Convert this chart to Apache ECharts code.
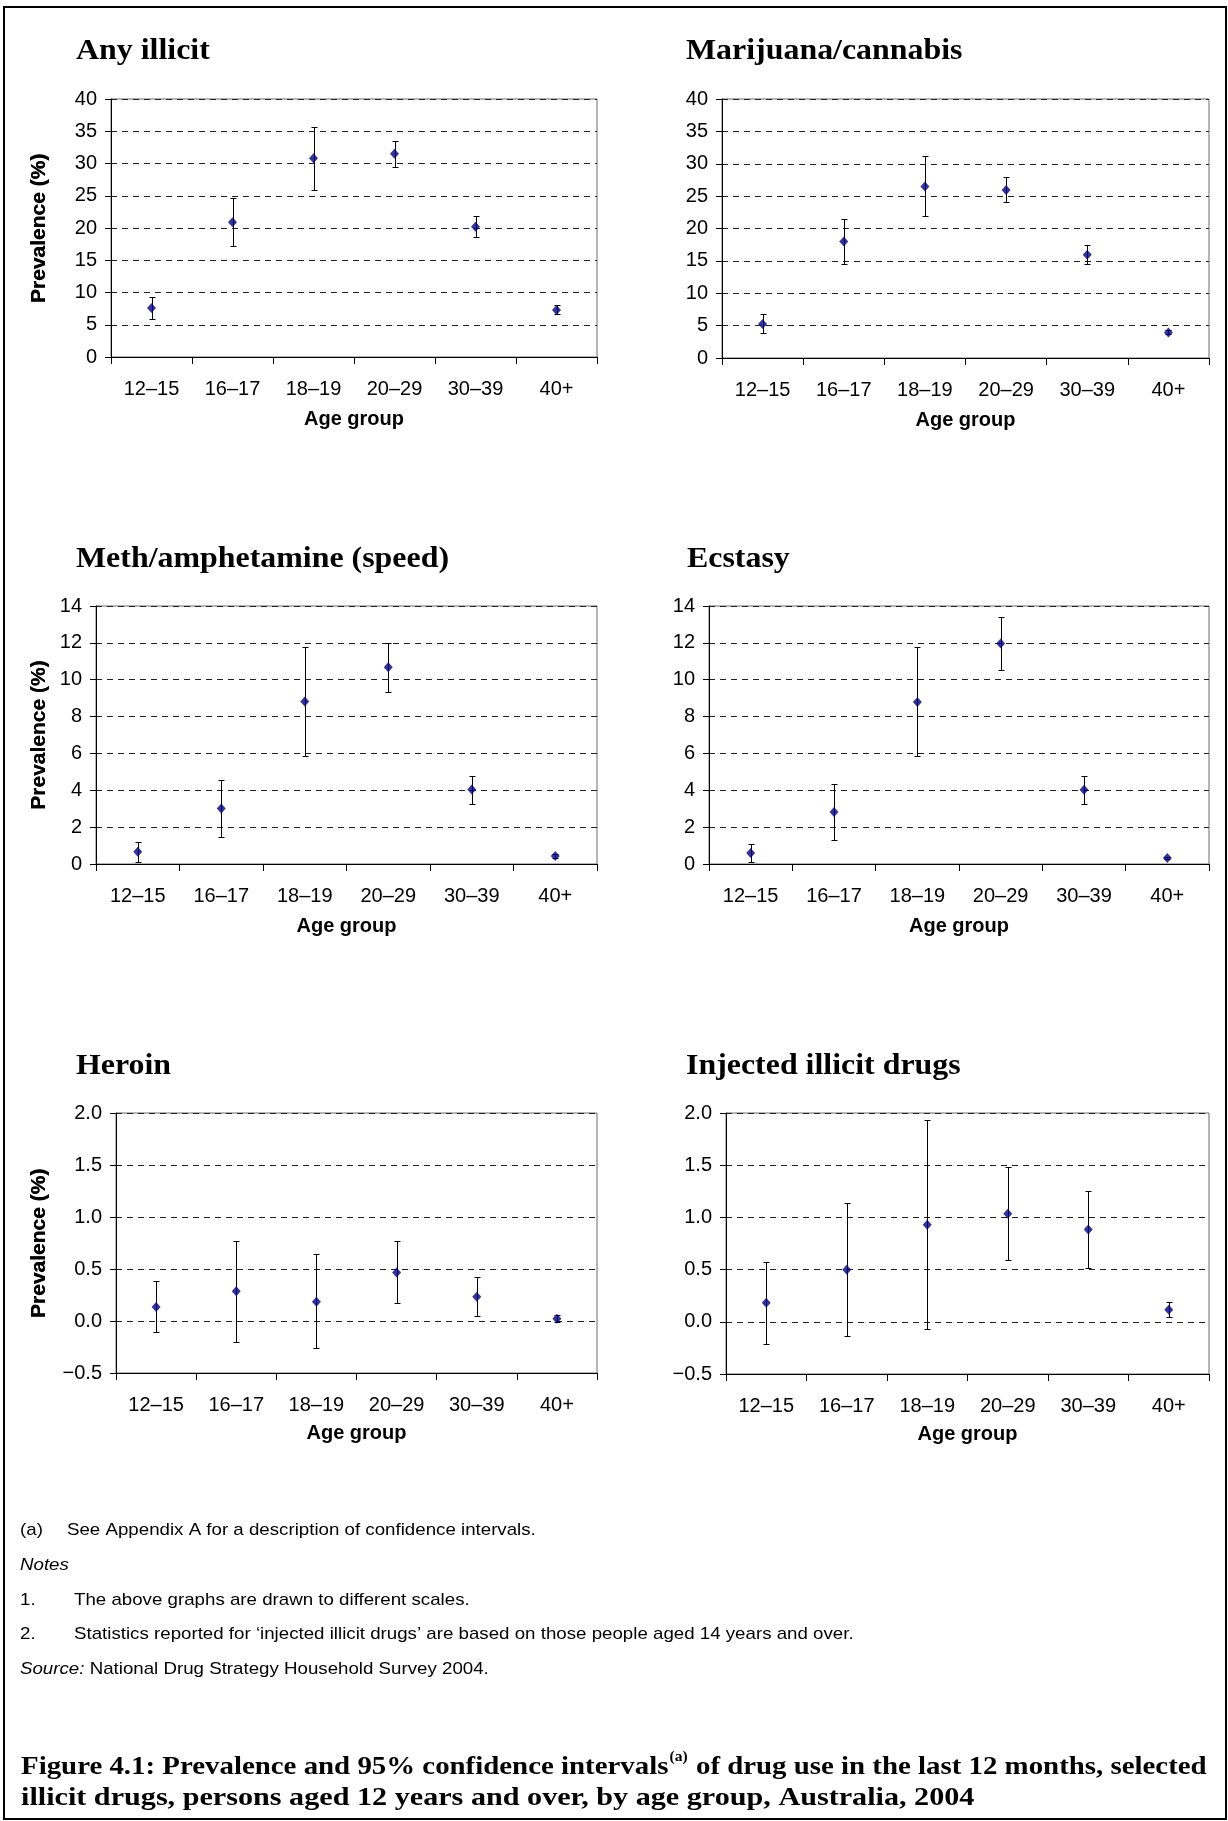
<!DOCTYPE html>
<html><head><meta charset="utf-8">
<script src="https://cdn.jsdelivr.net/npm/echarts@6/dist/echarts.min.js"></script>
<style>html,body{margin:0;padding:0;background:#fff}#c{width:1228px;height:1821px}</style>
</head><body><div id="c"></div><script>
// ---------- data ----------
var ageGroups = ['12–15', '16–17', '18–19', '20–29', '30–39', '40+'];

var anyIllicitValue = [7.6, 20.9, 30.8, 31.5, 20.2, 7.3];
var anyIllicitLow   = [5.9, 17.2, 25.9, 29.5, 18.6, 6.7];
var anyIllicitHigh  = [9.35, 24.65, 35.6, 33.5, 21.8, 8.0];

var cannabisValue = [5.25, 18.0, 26.5, 25.95, 15.95, 3.95];
var cannabisLow   = [3.8, 14.5, 21.9, 24.1, 14.55, 3.65];
var cannabisHigh  = [6.75, 21.5, 31.2, 27.9, 17.45, 4.3];

var methValue = [0.67, 3.01, 8.82, 10.68, 4.04, 0.43];
var methLow   = [0.13, 1.48, 5.88, 9.33, 3.28, 0.32];
var methHigh  = [1.21, 4.58, 11.78, 12.0, 4.8, 0.54];

var ecstasyValue = [0.6, 2.82, 8.79, 11.96, 4.03, 0.33];
var ecstasyLow   = [0.09, 1.32, 5.86, 10.54, 3.26, 0.27];
var ecstasyHigh  = [1.08, 4.34, 11.76, 13.38, 4.77, 0.39];

var heroinValue = [0.134, 0.285, 0.186, 0.467, 0.234, 0.022];
var heroinLow   = [-0.109, -0.2, -0.26, 0.17, 0.048, -0.01];
var heroinHigh  = [0.38, 0.77, 0.64, 0.765, 0.42, 0.054];

var injectedValue = [0.182, 0.498, 0.929, 1.035, 0.885, 0.115];
var injectedLow   = [-0.208, -0.134, -0.067, 0.594, 0.52, 0.048];
var injectedHigh  = [0.572, 1.137, 1.929, 1.482, 1.252, 0.185];

// y-axis scales: [min, max, interval, decimals]
var scalePct40 = [0, 40, 5, 0];
var scalePct14 = [0, 14, 2, 0];
var scalePct2  = [-0.5, 2.0, 0.5, 1];

var panelTitles = ['Any illicit', 'Marijuana/cannabis', 'Meth/amphetamine (speed)', 'Ecstasy', 'Heroin', 'Injected illicit drugs'];
var yAxisTitle = 'Prevalence (%)';
var xAxisTitle = 'Age group';

var footnoteA = 'See Appendix A for a description of confidence intervals.';
var note1 = 'The above graphs are drawn to different scales.';
var note2 = 'Statistics reported for \u2018injected illicit drugs\u2019 are based on those people aged 14 years and over.';
var sourceText = 'National Drug Strategy Household Survey 2004.';
var captionLine1a = 'Figure 4.1: Prevalence and 95% confidence intervals';
var captionLine1b = ' of drug use in the last 12 months, selected';
var captionLine2 = 'illicit drugs, persons aged 12 years and over, by age group, Australia, 2004';

// ---------- layout ----------
var SANS = '"Liberation Sans", Arial, Helvetica, sans-serif';
var SERIF = '"Palatino Linotype", "Book Antiqua", Palatino, "Liberation Serif", serif';

var panels = [
  {v: anyIllicitValue, lo: anyIllicitLow, hi: anyIllicitHigh, s: scalePct40, L: 111, R: 597, T: 99, B: 357, tx: 76, ty: 52, ng: 52},
  {v: cannabisValue, lo: cannabisLow, hi: cannabisHigh, s: scalePct40, L: 722, R: 1209, T: 99, B: 358, tx: 686, ty: 52, ng: 52},
  {v: methValue, lo: methLow, hi: methHigh, s: scalePct14, L: 96, R: 597, T: 606, B: 864, tx: 76, ty: 560, ng: 52},
  {v: ecstasyValue, lo: ecstasyLow, hi: ecstasyHigh, s: scalePct14, L: 709, R: 1209, T: 606, B: 864, tx: 687, ty: 560, ng: 52},
  {v: heroinValue, lo: heroinLow, hi: heroinHigh, s: scalePct2, L: 116, R: 597, T: 1113, B: 1373, tx: 76, ty: 1067, ng: 50},
  {v: injectedValue, lo: injectedLow, hi: injectedHigh, s: scalePct2, L: 726, R: 1209, T: 1113, B: 1374, tx: 686, ty: 1067, ng: 50}
];

function errorBar(params, api) {
  var x = api.value(0);
  var lo = api.coord([x, api.value(1)]);
  var hi = api.coord([x, api.value(2)]);
  var px = Math.round(lo[0]) + 0.5;
  var yl = Math.round(lo[1]) + 0.5, yh = Math.round(hi[1]) + 0.5;
  var cap = 3;
  var st = {stroke: '#000', lineWidth: 1};
  return {type: 'group', children: [
    {type: 'line', shape: {x1: px, y1: yh, x2: px, y2: yl}, style: st},
    {type: 'line', shape: {x1: px - cap, y1: yh, x2: px + cap, y2: yh}, style: st},
    {type: 'line', shape: {x1: px - cap, y1: yl, x2: px + cap, y2: yl}, style: st}
  ]};
}

var grids = [], xAxes = [], yAxes = [], series = [], graphics = [];
panels.forEach(function (p, i) {
  grids.push({left: p.L, top: p.T, width: p.R - p.L, height: p.B - p.T, show: true,
    borderColor: '#6a6a6a', borderWidth: 1, backgroundColor: 'transparent', containLabel: false});
  xAxes.push({type: 'category', gridIndex: i, data: ageGroups, boundaryGap: true,
    axisLine: {onZero: false, lineStyle: {color: '#000', width: 1}},
    axisTick: {show: true, length: 7, lineStyle: {color: '#000'}},
    axisLabel: {color: '#000', fontSize: 20, fontFamily: SANS, margin: 22, interval: 0},
    splitLine: {show: false},
    name: xAxisTitle, nameLocation: 'middle', nameGap: p.ng,
    nameTextStyle: {color: '#000', fontSize: 20, fontWeight: 'bold', fontFamily: SANS}});
  var dec = p.s[3];
  yAxes.push({type: 'value', gridIndex: i, min: p.s[0], max: p.s[1], interval: p.s[2],
    axisLine: {show: true, onZero: false, lineStyle: {color: '#000', width: 1}},
    axisTick: {show: true, length: 6, lineStyle: {color: '#000'}},
    axisLabel: {color: '#000', fontSize: 20, fontFamily: SANS, margin: 14,
      formatter: function (val) { var t = Math.abs(val).toFixed(dec); return val < 0 ? '\u2212' + t : t; }},
    splitLine: {show: true, lineStyle: {color: '#222', type: [6, 5], width: 1}},
    name: yAxisTitle, nameLocation: 'middle', nameGap: p.L - 50, nameRotate: 90,
    nameTextStyle: {color: '#000', fontSize: 21, fontWeight: 'bold', fontFamily: SANS}});
  series.push({type: 'custom', xAxisIndex: i, yAxisIndex: i, renderItem: errorBar, z: 3,
    encode: {x: 0, y: [1, 2]},
    data: ageGroups.map(function (c, j) { return [j, p.lo[j], p.hi[j]]; })});
  series.push({type: 'scatter', xAxisIndex: i, yAxisIndex: i, z: 4, symbol: 'diamond', symbolSize: [9, 10],
    itemStyle: {color: '#000080'}, data: p.v});
  graphics.push({type: 'text', x: p.tx, y: p.ty, scaleX: 1.1, style: {text: panelTitles[i], font: 'bold 29px ' + SERIF,
    fill: '#000', textAlign: 'left', textVerticalAlign: 'middle'}});
});

function note(x, y, txt, italic) {
  return {type: 'text', x: x, y: y, scaleX: 1.1, style: {text: txt, font: (italic ? 'italic ' : '') + '17px ' + SANS,
    fill: '#000', textAlign: 'left', textVerticalAlign: 'middle'}};
}
graphics.push(note(20, 1530, '(a)'));
graphics.push(note(67, 1530, footnoteA));
graphics.push(note(20, 1565, 'Notes', true));
graphics.push(note(20, 1600, '1.'));
graphics.push(note(74, 1600, note1));
graphics.push(note(20, 1634, '2.'));
graphics.push(note(74, 1634, note2));
graphics.push({type: 'text', x: 20, y: 1669, scaleX: 1.1, style: {text: '{i|Source:} ' + sourceText,
  font: '17px ' + SANS, fill: '#000', textAlign: 'left', textVerticalAlign: 'middle',
  rich: {i: {fontStyle: 'italic', fontSize: 17, fontFamily: SANS}}}});
graphics.push({type: 'text', x: 21, y: 1765, scaleX: 1.11, style: {
  text: '{m|' + captionLine1a + '}{s|(a)}{m|' + captionLine1b + '}',
  fill: '#000', textAlign: 'left', textVerticalAlign: 'middle',
  rich: {m: {fontSize: 26, fontWeight: 'bold', fontFamily: SERIF, lineHeight: 30, verticalAlign: 'bottom'},
         s: {fontSize: 14, fontWeight: 'bold', fontFamily: SERIF, lineHeight: 30, verticalAlign: 'top', padding: [0, 1, 0, 1]}}}});
graphics.push({type: 'text', x: 21, y: 1798, scaleX: 1.16, style: {text: captionLine2, font: 'bold 26px ' + SERIF,
  fill: '#000', textAlign: 'left', textVerticalAlign: 'middle'}});
graphics.push({type: 'rect', shape: {x: 4, y: 7, width: 1222, height: 1812},
  style: {fill: null, stroke: '#000', lineWidth: 2}, silent: true});

var chart = echarts.init(document.getElementById('c'), null, {renderer: 'canvas'});
chart.setOption({
  animation: false,
  backgroundColor: '#fff',
  grid: grids, xAxis: xAxes, yAxis: yAxes, series: series, graphic: graphics
});
</script></body></html>
